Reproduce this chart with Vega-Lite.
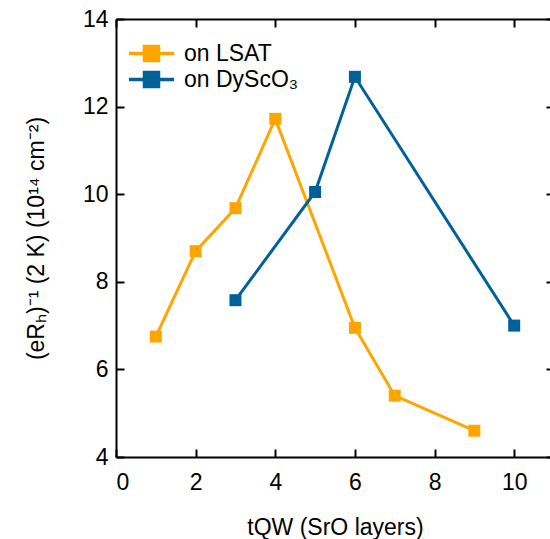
{
  "$schema": "https://vega.github.io/schema/vega-lite/v6.json",
  "autosize": "none",
  "padding": {"left": 116, "top": 19, "right": 0, "bottom": 82},
  "width": 438,
  "height": 438,
  "background": "white",
  "config": {
    "font": "Liberation Sans",
    "view": {"stroke": null},
    "axis": {
      "domainColor": "black", "domainWidth": 2, "tickColor": "black", "tickWidth": 2,
      "tickSize": -8, "grid": false, "labelFontSize": 23, "labelColor": "black",
      "titleFontSize": 23, "titleFontWeight": "normal", "titleColor": "black"
    }
  },
  "data": {"values": [
    {"t": 1, "v": 6.75, "s": "on LSAT"},
    {"t": 2, "v": 8.7, "s": "on LSAT"},
    {"t": 3, "v": 9.68, "s": "on LSAT"},
    {"t": 4, "v": 11.72, "s": "on LSAT"},
    {"t": 6, "v": 6.95, "s": "on LSAT"},
    {"t": 7, "v": 5.4, "s": "on LSAT"},
    {"t": 9, "v": 4.6, "s": "on LSAT"},
    {"t": 3, "v": 7.58, "s": "on DyScO₃"},
    {"t": 5, "v": 10.05, "s": "on DyScO₃"},
    {"t": 6, "v": 12.68, "s": "on DyScO₃"},
    {"t": 10, "v": 7.0, "s": "on DyScO₃"}
  ]},
  "encoding": {
    "x": {"field": "t", "type": "quantitative", "scale": {"domain": [0, 11], "nice": false},
      "axis": {"orient": "bottom", "title": "tQW (SrO layers)", "values": [0,2,4,6,8,10], "labelPadding": 22, "titlePadding": 22}},
    "y": {"field": "v", "type": "quantitative", "scale": {"domain": [4, 14], "nice": false},
      "axis": {"orient": "left", "title": "(eRₕ)⁻¹  (2 K)  (10¹⁴ cm⁻²)", "values": [4,6,8,10,12,14], "labelPadding": 16, "titlePadding": 34}},
    "color": {"field": "s", "type": "nominal", "sort": ["on LSAT", "on DyScO₃"],
      "scale": {"domain": ["on LSAT", "on DyScO₃"], "range": ["#FFA500", "#00609A"]},
      "legend": {"title": null, "orient": "none", "legendX": 24, "legendY": 23, "labelFontSize": 23, "labelColor": "black",
        "symbolType": "M-4.5,0H4.5M-1.4,-1.4H1.4V1.4H-1.4Z", "symbolSize": 100, "symbolStrokeWidth": 3.5,
        "rowPadding": -4, "labelOffset": 21}}
  },
  "layer": [
    {"mark": {"type": "line", "strokeWidth": 3}, "encoding": {}},
    {"mark": {"type": "point", "shape": "square", "filled": true, "size": 144, "opacity": 1}, "encoding": {
      "x": {"field": "t", "type": "quantitative", "axis": null},
      "y": {"field": "v", "type": "quantitative", "axis": null}
    }},
    {"mark": {"type": "point", "opacity": 0}, "encoding": {
      "x": {"field": "t", "type": "quantitative", "axis": {"orient": "top", "labels": false, "title": null, "values": [0,2,4,6,8,10]}},
      "y": {"field": "v", "type": "quantitative", "axis": {"orient": "right", "labels": false, "title": null, "values": [4,6,8,10,12,14]}},
      "color": {"value": "transparent"}
    }}
  ],
  "resolve": {"axis": {"x": "independent", "y": "independent"}}
}
